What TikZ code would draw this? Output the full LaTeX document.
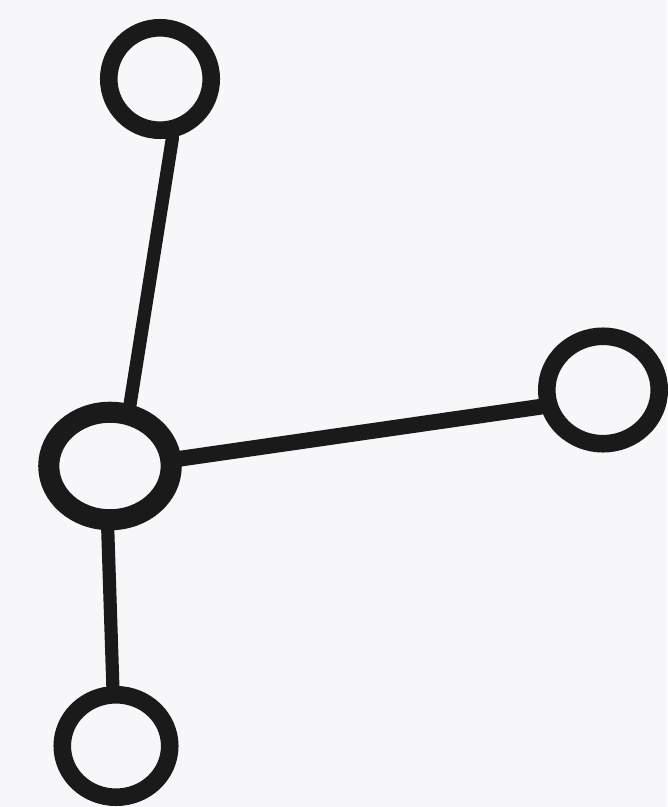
\documentclass[tikz,border=0pt]{standalone}
\usetikzlibrary{shapes.geometric}
\begin{document}
\begin{tikzpicture}[x=0.02cm,y=-0.02cm]
\definecolor{bg}{HTML}{F7F7F9}
\definecolor{ink}{HTML}{1A1A1A}
\tikzset{
  ring/.style={ellipse,draw=ink,line width=10pt,inner sep=0pt},
  link/.style={draw=ink,line width=7.5pt,line cap=round}
}
\fill[bg] (0,0) rectangle (667,807);
\useasboundingbox (0,0) rectangle (667,807);
\node[ring,minimum width=2.05cm,minimum height=2.05cm] (top) at (160,79) {};
\node[ring,minimum width=2.45cm,minimum height=2.15cm,line width=12pt] (mid) at (110,466) {};
\node[ring,minimum width=2.25cm,minimum height=2.15cm] (right) at (603,390) {};
\node[ring,minimum width=2.15cm,minimum height=2.05cm] (bot) at (116,746) {};
\draw[link] (top.-78) -- (mid.72);
\draw[link,line width=9pt] (mid.6) -- (right.195);
\draw[link] (mid.-92) -- (bot.93);
\end{tikzpicture}
\end{document}
